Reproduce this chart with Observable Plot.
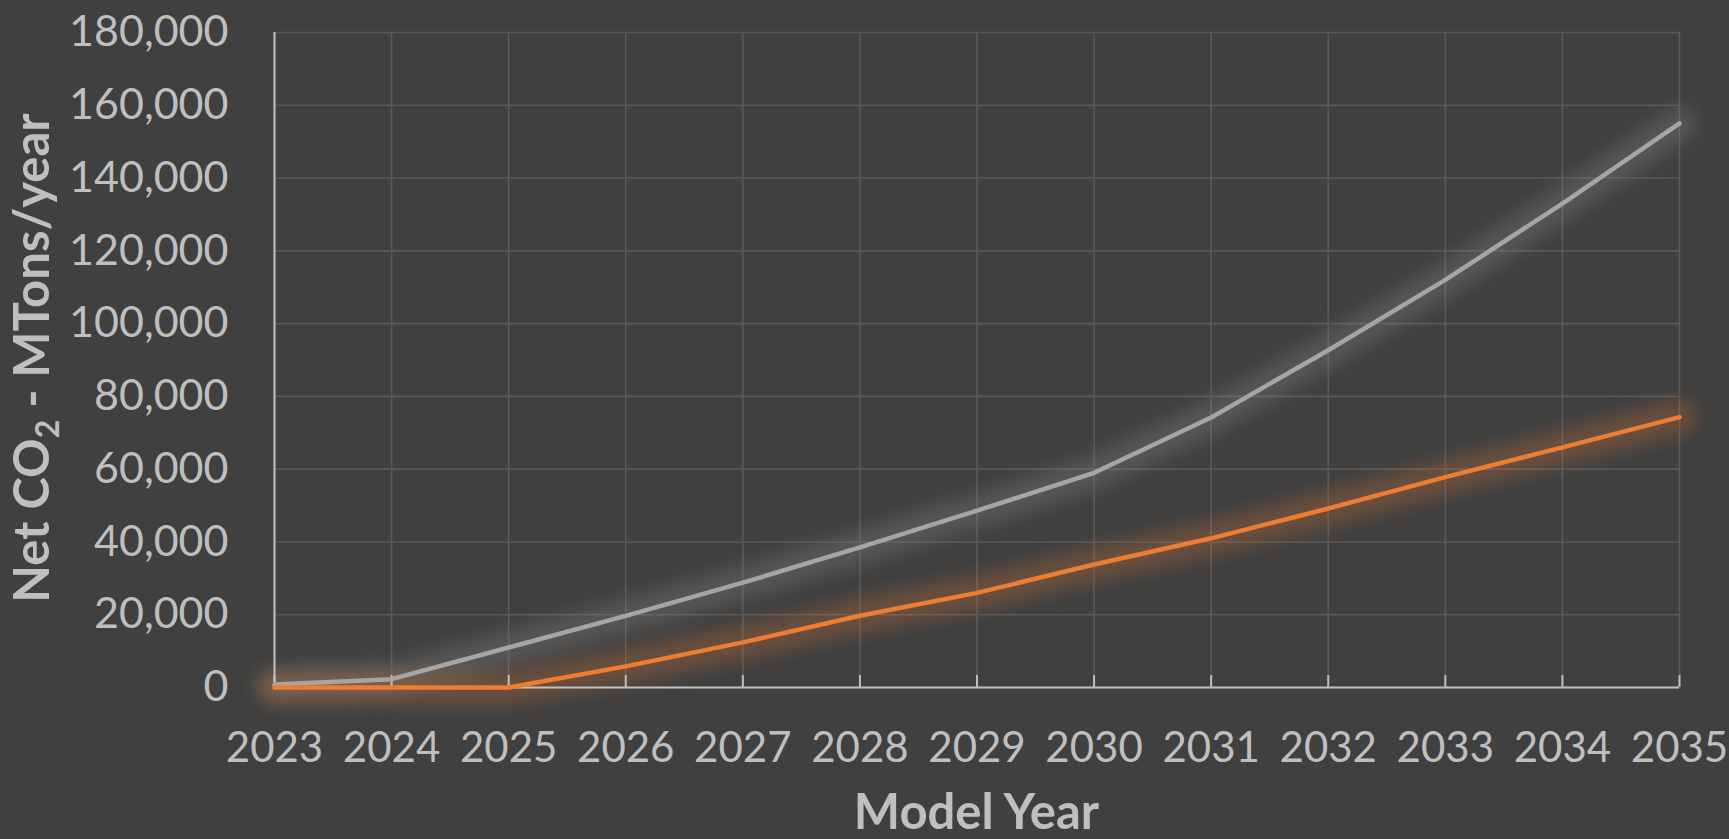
<!DOCTYPE html>
<html>
<head>
<meta charset="utf-8">
<script src="https://cdn.jsdelivr.net/npm/d3@7"></script>
<script src="https://cdn.jsdelivr.net/npm/@observablehq/plot@0.6"></script>
<style>
  html, body { margin: 0; padding: 0; background: #404040; }
  #chart { width: 1729px; height: 839px; overflow: hidden; }
</style>
</head>
<body>
<div id="chart"></div>
<script>
// ---- data ----
const years = [2023, 2024, 2025, 2026, 2027, 2028, 2029, 2030, 2031, 2032, 2033, 2034, 2035];
const grayValues = [800, 2300, 11000, 19700, 28800, 38500, 48600, 59000, 74200, 92700, 112000, 133000, 155000];
const orangeValues = [0, 0, 0, 5800, 12400, 19700, 26000, 33800, 41000, 49200, 57800, 66000, 74300];
const yTicks = [0, 20000, 40000, 60000, 80000, 100000, 120000, 140000, 160000, 180000];
const xTitle = "Model Year";
const yTitleParts = ["Net CO", "2", " - MTons/year"];

const grayRows = years.map((yr, i) => ({year: yr, value: grayValues[i]}));
const orangeRows = years.map((yr, i) => ({year: yr, value: orangeValues[i]}));

const textColor = "#BFBFBF";
const gridColor = "#595959";
const grayColor = "#A5A5A5";
const orangeColor = "#ED7D31";
const font = "Lato, 'Open Sans', 'Noto Sans', sans-serif";

const plot = Plot.plot({
  width: 1729,
  height: 839,
  marginLeft: 274,
  marginRight: 50,
  marginTop: 32,
  marginBottom: 152,
  style: {background: "#404040", fontFamily: font, color: textColor, overflow: "visible"},
  x: {domain: [2023, 2035]},
  y: {domain: [0, 180000]},
  marks: [
    Plot.gridY(yTicks, {stroke: gridColor, strokeOpacity: 1, strokeWidth: 1.6}),
    Plot.gridX(years, {stroke: gridColor, strokeOpacity: 1, strokeWidth: 1.6}),
    // glows
    Plot.line(grayRows, {x: "year", y: "value", stroke: "#8a8a8a", strokeWidth: 32, strokeOpacity: 0.3, ariaDescription: "glow"}),
    Plot.line(orangeRows, {x: "year", y: "value", stroke: orangeColor, strokeWidth: 32, strokeOpacity: 0.26, ariaDescription: "glow"}),
    // axis lines
    Plot.ruleY([0], {stroke: textColor, strokeWidth: 2}),
    Plot.ruleX([2023], {stroke: textColor, strokeWidth: 2}),
    Plot.axisX(years, {
      tickSize: 12, dy: -12, tickPadding: 45, strokeWidth: 2,
      tickFormat: d => String(d), fontSize: 42, color: textColor, label: null
    }),
    Plot.axisY(yTicks, {
      tickSize: 0, tickPadding: 46, tickFormat: d3.format(","), fontSize: 43, color: textColor, label: null
    }),
    // data lines
    Plot.line(grayRows, {x: "year", y: "value", stroke: grayColor, strokeWidth: 4.5}),
    Plot.line(orangeRows, {x: "year", y: "value", stroke: orangeColor, strokeWidth: 4.5})
  ]
});

document.getElementById("chart").appendChild(plot);

// blur the glow layers
d3.select(plot).selectAll('[aria-description="glow"]').style("filter", "blur(9px)");

// axis titles
const svg = d3.select(plot);
svg.append("text")
  .attr("x", (274 + 1679) / 2)
  .attr("y", 829)
  .attr("text-anchor", "middle")
  .attr("fill", textColor)
  .attr("font-family", font)
  .attr("font-weight", "bold")
  .attr("font-size", 49)
  .text(xTitle);

const yt = svg.append("text")
  .attr("transform", "translate(49,358) rotate(-90)")
  .attr("text-anchor", "middle")
  .attr("fill", textColor)
  .attr("font-family", font)
  .attr("font-weight", "bold")
  .attr("font-size", 49);
yt.append("tspan").text(yTitleParts[0]);
yt.append("tspan").attr("font-size", 32).attr("dy", 10).text(yTitleParts[1]);
yt.append("tspan").attr("dy", -10).text(yTitleParts[2]);
</script>
</body>
</html>
